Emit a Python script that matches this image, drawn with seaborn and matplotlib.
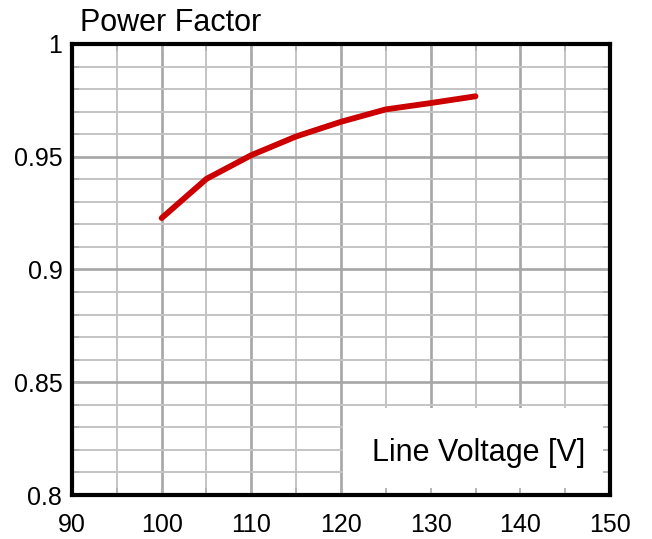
import numpy as np
import pandas as pd
import matplotlib.pyplot as plt
import seaborn as sns
from matplotlib.patches import Rectangle

# -----------------------------
# Data
# -----------------------------
line_voltage = [100, 105, 110, 115, 120, 125, 130, 135]
power_factor = [0.9228, 0.9402, 0.9507, 0.9590, 0.9655, 0.9710, 0.9738, 0.9768]

x_ticks = [90, 100, 110, 120, 130, 140, 150]
y_ticks = [0.8, 0.85, 0.9, 0.95, 1.0]
y_tick_labels = ["0.8", "0.85", "0.9", "0.95", "1"]

x_minor = np.arange(90, 151, 5)
y_minor = np.arange(0.8, 1.001, 0.01)

df = pd.DataFrame({"voltage": line_voltage, "pf": power_factor})

# -----------------------------
# Style
# -----------------------------
sns.set_style("white")
plt.rcParams["font.family"] = ["Liberation Sans", "DejaVu Sans"]

fig = plt.figure(figsize=(6.52, 5.39), dpi=100)
ax = fig.add_axes([0.1104, 0.0816, 0.8252, 0.8368])
ax.set_axisbelow(False)

# grid: minor every 5 V / 0.01, major every 10 V / 0.05
for xv in x_minor:
    major = xv % 10 == 0
    ax.axvline(xv, color="#a6a6a6" if major else "#c4c4c4",
               linewidth=1.9 if major else 1.4, zorder=0)
for yv in y_minor:
    major = round(yv * 100) % 5 == 0
    ax.axhline(yv, color="#a6a6a6" if major else "#c4c4c4",
               linewidth=1.9 if major else 1.4, zorder=0)

sns.lineplot(
    data=df,
    x="voltage",
    y="pf",
    color="#cc0000",
    linewidth=4.2,
    ax=ax,
    zorder=3
)

ax.set_xlim(90, 150)
ax.set_ylim(0.8, 1.0)
ax.set_xticks(x_ticks)
ax.set_yticks(y_ticks)
ax.set_yticklabels(y_tick_labels)
ax.set_xticks(x_minor, minor=True)
ax.set_yticks(y_minor, minor=True)
ax.tick_params(which="both", direction="in", length=5, width=1.3,
               color="#b0b0b0", bottom=True, left=True, top=True, right=True,
               labelsize=18, labelcolor="black")
ax.tick_params(axis="x", pad=13)
ax.tick_params(axis="y", pad=7)
ax.set_xlabel("")
ax.set_ylabel("")

for side in ax.spines.values():
    side.set_linewidth(3)
    side.set_color("black")
    side.set_zorder(4)

# axis label box in the lower right corner
ax.add_patch(Rectangle(
    (120.2, 0.8), 29.8, 0.0385,
    facecolor="white", edgecolor="none", zorder=1
))
ax.text(
    135.3, 0.8185, "Line Voltage [V]",
    ha="center", va="center", fontsize=22, color="black", zorder=4
)

fig.text(0.123, 0.958, "Power Factor", ha="left", va="center",
         fontsize=22, color="black")

plt.savefig("out.png", dpi=100)
plt.close()
